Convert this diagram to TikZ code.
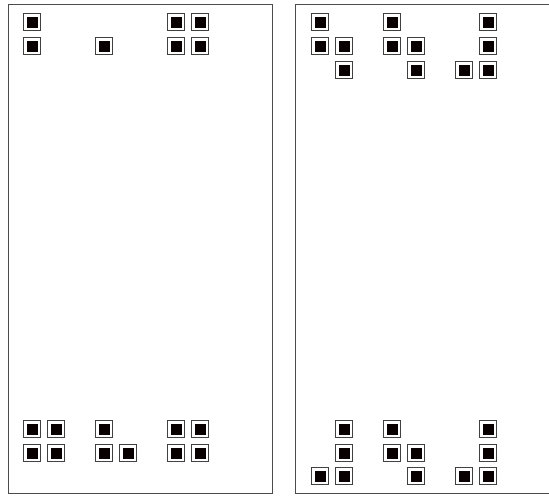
\documentclass[tikz,border=0pt]{standalone}
\begin{document}
\begin{tikzpicture}[x=1pt,y=-1pt,
  panel/.style={draw=black!70, line width=1pt},
  sq/.style={draw=black!75, line width=1pt, fill=white, minimum size=17pt, inner sep=0pt,
    path picture={\fill[black!90!red!30!black] ([shift={(3pt,3pt)}]path picture bounding box.south west) rectangle ([shift={(-3pt,-3pt)}]path picture bounding box.north east);}}]
\useasboundingbox (0,0) rectangle (549,496);
% panels
\draw[panel] (8,4) rectangle (272,493);
\draw[panel] (550,4) -- (295,4) -- (295,493) -- (550,493);
% left panel, top
\node[sq] (la1) at (32,22) {};
\node[sq] (la2) at (176,22) {};
\node[sq] (la3) at (200,22) {};
\node[sq] (lb1) at (32,46) {};
\node[sq] (lb2) at (104,46) {};
\node[sq] (lb3) at (176,46) {};
\node[sq] (lb4) at (200,46) {};
% left panel, bottom
\node[sq] (lc1) at (32,429) {};
\node[sq] (lc2) at (56,429) {};
\node[sq] (lc3) at (104,429) {};
\node[sq] (lc4) at (176,429) {};
\node[sq] (lc5) at (200,429) {};
\node[sq] (ld1) at (32,453) {};
\node[sq] (ld2) at (56,453) {};
\node[sq] (ld3) at (104,453) {};
\node[sq] (ld4) at (128,453) {};
\node[sq] (ld5) at (176,453) {};
\node[sq] (ld6) at (200,453) {};
% right panel, top
\node[sq] (ra1) at (320,22) {};
\node[sq] (ra2) at (392,22) {};
\node[sq] (ra3) at (488,22) {};
\node[sq] (rb1) at (320,46) {};
\node[sq] (rb2) at (344,46) {};
\node[sq] (rb3) at (392,46) {};
\node[sq] (rb4) at (416,46) {};
\node[sq] (rb5) at (488,46) {};
\node[sq] (rc1) at (344,70) {};
\node[sq] (rc2) at (416,70) {};
\node[sq] (rc3) at (464,70) {};
\node[sq] (rc4) at (488,70) {};
% right panel, bottom
\node[sq] (rd1) at (344,429) {};
\node[sq] (rd2) at (392,429) {};
\node[sq] (rd3) at (488,429) {};
\node[sq] (re1) at (344,453) {};
\node[sq] (re2) at (392,453) {};
\node[sq] (re3) at (416,453) {};
\node[sq] (re4) at (488,453) {};
\node[sq] (rf1) at (320,476) {};
\node[sq] (rf2) at (344,476) {};
\node[sq] (rf3) at (416,476) {};
\node[sq] (rf4) at (464,476) {};
\node[sq] (rf5) at (488,476) {};
\end{tikzpicture}
\end{document}
